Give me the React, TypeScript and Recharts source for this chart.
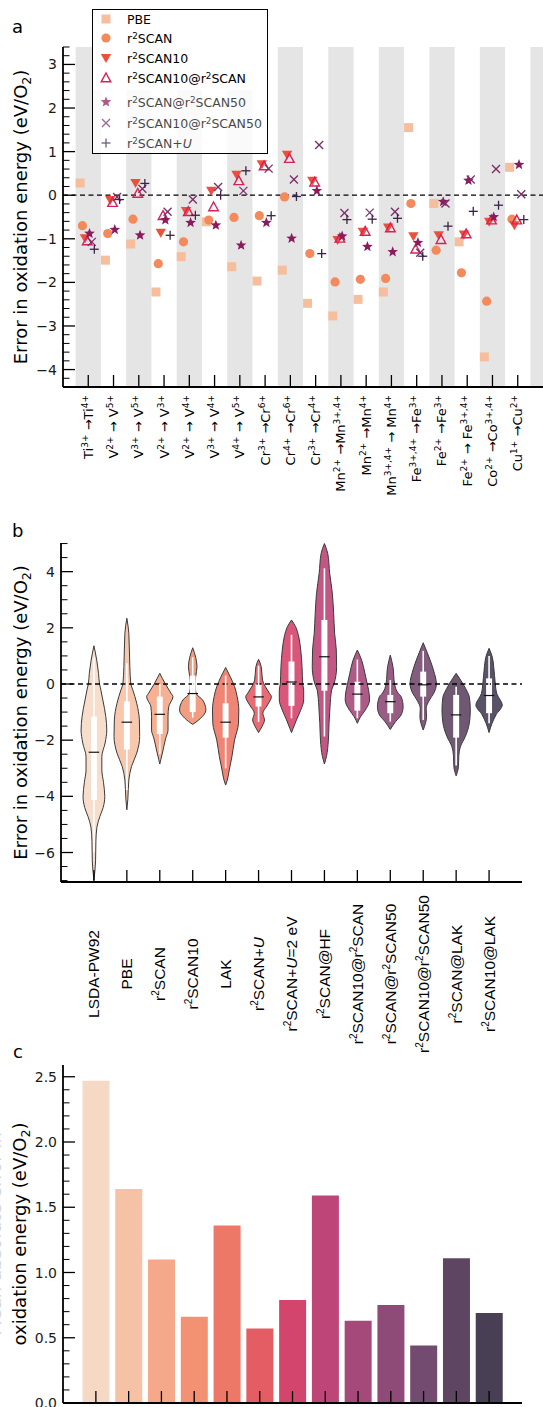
import React from 'react';
import {
  ComposedChart,
  Scatter,
  Area,
  Bar,
  Cell,
  XAxis,
  YAxis,
  ReferenceArea,
  ReferenceLine,
  Legend,
} from 'recharts';

const FONT = '"DejaVu Sans", Verdana, sans-serif';
const FONT_B = '"Liberation Sans", Arial, sans-serif';

// ---------------- panel a ----------------
const transitions = [
  'Ti^{3+} →Ti^{4+}',
  'V^{2+} → V^{5+}',
  'V^{3+} → V^{5+}',
  'V^{2+} → V^{3+}',
  'V^{2+} → V^{4+}',
  'V^{3+} → V^{4+}',
  'V^{4+} → V^{5+}',
  'Cr^{3+} →Cr^{6+}',
  'Cr^{4+} →Cr^{6+}',
  'Cr^{3+} →Cr^{4+}',
  'Mn^{2+} →Mn^{3+,4+}',
  'Mn^{2+} →Mn^{4+}',
  'Mn^{3+,4+} → Mn^{4+}',
  'Fe^{3+,4+} →Fe^{3+}',
  'Fe^{2+} →Fe^{3+}',
  'Fe^{2+} → Fe^{3+,4+}',
  'Co^{2+} →Co^{3+,4+}',
  'Cu^{1+} →Cu^{2+}',
];

const pbe = [0.28, -1.49, -1.12, -2.22, -1.41, -0.61, -1.64, -1.97, -1.72, -2.48, -2.77, -2.39, -2.22, 1.55, -0.19, -1.07, -3.71, 0.64];
const r2scan = [-0.7, -0.88, -0.55, -1.57, -1.07, -0.57, -0.51, -0.47, -0.04, -1.34, -1.99, -1.93, -1.91, -0.19, -1.26, -1.78, -2.43, -0.55];
const r2scan10 = [-0.99, -0.11, 0.28, -0.86, -0.36, 0.1, 0.47, 0.71, 0.93, 0.33, -1.03, -0.84, -0.74, -0.94, -0.92, -0.9, -0.61, -0.69];
const r2scan10AtR2scan = [-1.05, -0.17, 0.04, -0.47, -0.38, -0.27, 0.33, 0.67, 0.84, 0.3, -0.99, -0.83, -0.75, -1.24, -1.02, -0.89, -0.57, -0.57];
const r2scanAt50 = [-0.88, -0.79, -0.92, -0.57, -0.63, -0.69, -1.15, -0.63, -0.99, 0.1, -0.94, -1.18, -1.3, -1.09, -0.15, 0.34, -0.5, 0.7];
const r2scan10At50 = [-1.07, -0.04, 0.15, -0.38, -0.1, 0.19, 0.1, 0.61, 0.36, 1.15, -0.41, -0.4, -0.38, -1.32, -0.19, 0.36, 0.6, 0.02];
const r2scanU = [-1.24, -0.1, 0.27, -0.92, -0.46, 0.0, 0.56, -0.47, -0.03, -1.34, -0.56, -0.55, -0.53, -1.4, -0.71, -0.37, -0.23, -0.56];

const dodge = [-0.32, -0.23, -0.13, -0.04, 0.05, 0.14, 0.24];

const seriesA = [
  { name: 'PBE', vals: pbe, kind: 'square', color: '#f7be9d' },
  { name: 'r^{2}SCAN', vals: r2scan, kind: 'circle', color: '#f4895b' },
  { name: 'r^{2}SCAN10', vals: r2scan10, kind: 'tridown', color: '#ec503d' },
  { name: 'r^{2}SCAN10@r^{2}SCAN', vals: r2scan10AtR2scan, kind: 'triup', color: '#d6215a' },
  { name: 'r^{2}SCAN@r^{2}SCAN50', vals: r2scanAt50, kind: 'star', color: '#8a1c5d' },
  { name: 'r^{2}SCAN10@r^{2}SCAN50', vals: r2scan10At50, kind: 'x', color: '#7a2d68' },
  { name: 'r^{2}SCAN+$U$', vals: r2scanU, kind: 'plus', color: '#3a2346' },
];

// ---------------- panels b / c ----------------
const methods = [
  'LSDA-PW92',
  'PBE',
  'r^{2}SCAN',
  'r^{2}SCAN10',
  'LAK',
  'r^{2}SCAN+$U$',
  'r^{2}SCAN+$U$=2 eV',
  'r^{2}SCAN@HF',
  'r^{2}SCAN10@r^{2}SCAN',
  'r^{2}SCAN@r^{2}SCAN50',
  'r^{2}SCAN10@r^{2}SCAN50',
  'r^{2}SCAN@LAK',
  'r^{2}SCAN10@LAK',
];

const methodColors = [
  '#f6d9c5', '#f6c2a5', '#f5a98a', '#f29272', '#ee7867', '#e45c64', '#d4456d',
  '#bd4577', '#a5497a', '#8e4b78', '#744b70', '#5e4663', '#483f55',
];

// violin outlines: [error value, half width in category units]
const violinProfiles: [number, number][][] = [
  [[1.36, 0], [0.85, 0.085], [0.38, 0.14], [0, 0.17], [-0.21, 0.21], [-0.57, 0.27], [-1.16, 0.36], [-1.64, 0.39], [-2.1, 0.34], [-2.59, 0.24], [-3.06, 0.24], [-3.5, 0.29], [-4.0, 0.33], [-4.4, 0.28], [-4.72, 0.18], [-5.1, 0.09], [-5.6, 0.06], [-6.3, 0.05], [-6.98, 0]],
  [[2.34, 0], [1.8, 0.06], [0.62, 0.09], [0, 0.12], [-0.21, 0.18], [-0.69, 0.3], [-1.28, 0.38], [-1.87, 0.39], [-2.46, 0.3], [-2.94, 0.14], [-3.42, 0.06], [-4.1, 0.03], [-4.48, 0]],
  [[0.38, 0], [0, 0.17], [-0.33, 0.34], [-0.45, 0.4], [-0.81, 0.27], [-1.16, 0.25], [-1.64, 0.25], [-1.93, 0.18], [-2.35, 0.1], [-2.7, 0.03], [-2.85, 0]],
  [[1.29, 0], [0.95, 0.09], [0.62, 0.13], [0.26, 0.09], [0, 0.07], [-0.33, 0.1], [-0.57, 0.3], [-0.93, 0.4], [-1.22, 0.24], [-1.44, 0]],
  [[0.59, 0], [0.26, 0.14], [-0.09, 0.27], [-0.45, 0.35], [-0.93, 0.4], [-1.4, 0.39], [-2.0, 0.27], [-2.59, 0.19], [-3.06, 0.11], [-3.42, 0.05], [-3.6, 0]],
  [[0.88, 0], [0.62, 0.08], [0.14, 0.12], [-0.33, 0.33], [-0.45, 0.39], [-0.75, 0.27], [-1.04, 0.13], [-1.28, 0.18], [-1.52, 0.1], [-1.73, 0]],
  [[2.28, 0], [2.05, 0.12], [1.68, 0.22], [1.21, 0.28], [0.62, 0.32], [0, 0.34], [-0.21, 0.37], [-0.57, 0.37], [-0.93, 0.28], [-1.28, 0.15], [-1.58, 0.05], [-1.73, 0]],
  [[5.0, 0], [4.65, 0.1], [3.94, 0.16], [3.23, 0.24], [2.52, 0.28], [1.8, 0.31], [1.21, 0.36], [0.62, 0.37], [0, 0.29], [-0.21, 0.22], [-0.81, 0.17], [-1.4, 0.14], [-2.0, 0.12], [-2.59, 0.06], [-2.85, 0]],
  [[1.21, 0], [0.85, 0.13], [0.38, 0.23], [0, 0.3], [-0.21, 0.34], [-0.57, 0.37], [-0.93, 0.24], [-1.16, 0.1], [-1.4, 0]],
  [[1.03, 0], [0.62, 0.08], [0, 0.13], [-0.33, 0.24], [-0.45, 0.33], [-0.81, 0.39], [-1.1, 0.33], [-1.34, 0.16], [-1.62, 0]],
  [[1.47, 0], [1.21, 0.09], [0.85, 0.21], [0.5, 0.31], [0, 0.4], [-0.33, 0.32], [-0.57, 0.19], [-0.87, 0.09], [-1.16, 0.1], [-1.64, 0]],
  [[0.38, 0], [0, 0.21], [-0.33, 0.36], [-0.45, 0.4], [-0.93, 0.43], [-1.4, 0.4], [-1.87, 0.28], [-2.23, 0.13], [-2.59, 0.08], [-2.94, 0.07], [-3.27, 0]],
  [[1.27, 0], [0.95, 0.1], [0.62, 0.14], [0, 0.19], [-0.33, 0.23], [-0.45, 0.28], [-0.75, 0.4], [-1.1, 0.21], [-1.4, 0.09], [-1.73, 0]],
];

const boxHi = [-1.16, -0.62, -0.45, 0.3, -0.69, 0.0, 0.8, 2.28, 0.08, -0.39, 0.44, -0.39, 0.2];
const boxLo = [-4.13, -2.33, -1.78, -1.0, -1.91, -0.8, -0.78, -0.24, -0.95, -1.04, -0.45, -1.91, -1.04];
const whiskHi = [0.95, 0.74, 0.0, 0.95, 0.3, 0.65, 1.75, 4.12, 0.87, 0.14, 1.18, -0.1, 1.0];
const whiskLo = [-6.0, -3.77, -2.5, -1.2, -3.0, -1.35, -1.22, -1.87, -1.22, -1.34, -1.28, -2.9, -1.4];
const medians = [-2.43, -1.36, -1.08, -0.34, -1.36, -0.46, 0.07, 0.97, -0.36, -0.63, -0.03, -1.1, -0.41];

const maeValues = [2.47, 1.64, 1.1, 0.66, 1.36, 0.57, 0.79, 1.59, 0.63, 0.75, 0.44, 1.11, 0.69];

// ---------------- helpers ----------------
type Seg = { t: string; k: 'n' | 'sup' | 'sub' | 'it' };

function parse(s: string): Seg[] {
  const out: Seg[] = [];
  const re = /\^\{([^}]*)\}|_\{([^}]*)\}|\$([^$]*)\$|([^^_$]+)/g;
  let m: RegExpExecArray | null;
  while ((m = re.exec(s))) {
    if (m[1] != null) out.push({ t: m[1], k: 'sup' });
    else if (m[2] != null) out.push({ t: m[2], k: 'sub' });
    else if (m[3] != null) out.push({ t: m[3], k: 'it' });
    else out.push({ t: m[4], k: 'n' });
  }
  return out;
}

function Rich({ s, size, small, shift }: { s: string; size: number; small: number; shift: number }) {
  let cur = 0;
  return (
    <>
      {parse(s).map((seg, i) => {
        const target = seg.k === 'sup' ? -shift : seg.k === 'sub' ? shift * 0.6 : 0;
        const dy = target - cur;
        cur = target;
        return (
          <tspan
            key={i}
            dy={dy}
            fontSize={seg.k === 'sup' || seg.k === 'sub' ? small : size}
            fontStyle={seg.k === 'it' ? 'italic' : undefined}
          >
            {seg.t}
          </tspan>
        );
      })}
    </>
  );
}

function HtmlRich({ s }: { s: string }) {
  return (
    <>
      {parse(s).map((seg, i) =>
        seg.k === 'sup' ? (
          <span key={i} style={{ fontSize: '0.7em', position: 'relative', top: '-0.45em' }}>{seg.t}</span>
        ) : seg.k === 'it' ? (
          <i key={i}>{seg.t}</i>
        ) : (
          <span key={i}>{seg.t}</span>
        )
      )}
    </>
  );
}

function Marker({ kind, cx, cy, color }: { kind: string; cx: number; cy: number; color: string }) {
  switch (kind) {
    case 'square':
      return <rect x={cx - 4.5} y={cy - 4.5} width={9} height={9} fill={color} />;
    case 'circle':
      return <circle cx={cx} cy={cy} r={4.6} fill={color} />;
    case 'tridown':
      return <polygon points={`${cx - 5.2},${cy - 4} ${cx + 5.2},${cy - 4} ${cx},${cy + 5}`} fill={color} />;
    case 'triup':
      return (
        <polygon
          points={`${cx},${cy - 5} ${cx + 4.8},${cy + 3.8} ${cx - 4.8},${cy + 3.8}`}
          fill="none"
          stroke={color}
          strokeWidth={1.4}
        />
      );
    case 'star': {
      const pts: string[] = [];
      for (let k = 0; k < 10; k++) {
        const r = k % 2 === 0 ? 5.6 : 2.4;
        const a = -Math.PI / 2 + (k * Math.PI) / 5;
        pts.push(`${cx + r * Math.cos(a)},${cy + r * Math.sin(a)}`);
      }
      return <polygon points={pts.join(' ')} fill={color} />;
    }
    case 'x':
      return (
        <g stroke={color} strokeWidth={1.3}>
          <line x1={cx - 4} y1={cy - 4} x2={cx + 4} y2={cy + 4} />
          <line x1={cx - 4} y1={cy + 4} x2={cx + 4} y2={cy - 4} />
        </g>
      );
    default:
      return (
        <g stroke={color} strokeWidth={1.3}>
          <line x1={cx - 4.5} y1={cy} x2={cx + 4.5} y2={cy} />
          <line x1={cx} y1={cy - 4.5} x2={cx} y2={cy + 4.5} />
        </g>
      );
  }
}

function steps(a: number, b: number, step: number) {
  const out: number[] = [];
  for (let k = Math.round(a / step); k <= Math.round(b / step); k++) out.push(+(k * step).toFixed(6));
  return out;
}
const isMult = (v: number, step: number) => Math.abs(v / step - Math.round(v / step)) < 1e-6;
const minus = (s: string) => s.replace('-', '\u2212');

type Side = 'left' | 'right' | 'top' | 'bottom';
function makeTick(
  side: Side,
  major: (v: any) => boolean,
  label?: (v: any, x: number, y: number, index: number) => React.ReactNode
) {
  return (props: any) => {
    const { x, y, payload, index } = props;
    const v = payload.value;
    const isMaj = major(v);
    const L = isMaj ? 12 : 6.5;
    const x2 = side === 'left' ? x + L : side === 'right' ? x - L : x;
    const y2 = side === 'top' ? y + L : side === 'bottom' ? y - L : y;
    return (
      <g>
        <line x1={x} y1={y} x2={x2} y2={y2} stroke="#000" strokeWidth={isMaj ? 1.3 : 1} />
        {isMaj && label ? label(v, x, y, index) : null}
      </g>
    );
  };
}

const numLabel = (fmt: (v: number) => string) => (v: number, x: number, y: number) => (
  <text x={x - 6} y={y} dy="0.36em" textAnchor="end" fontSize={14} fontFamily={FONT} fill="#1a1a1a">
    {fmt(v)}
  </text>
);

const yLabel = (lines: { t: string; dx: number; fill: string }[]) => (props: any) => {
  const vb = props.viewBox || { x: 0, y: 0, width: 0, height: 0 };
  const cy = vb.y + vb.height / 2;
  return (
    <g>
      {lines.map((l, i) => {
        const x = vb.x + l.dx;
        return (
          <text
            key={i}
            x={x}
            y={cy}
            transform={`rotate(-90, ${x}, ${cy})`}
            textAnchor="middle"
            fontSize={18}
            fontFamily={FONT}
            fill={l.fill}
          >
            <Rich s={l.t} size={18} small={12.5} shift={6} />
          </text>
        );
      })}
    </g>
  );
};

const AXIS_LINE = { stroke: '#000', strokeWidth: 1.8 };

// ---------------- legend for panel a ----------------
const legendRows = [10, 29, 49, 69, 93, 114, 134];

function LegendA() {
  return (
    <div
      style={{
        position: 'relative',
        width: 176,
        height: 145,
        border: '1.2px solid #000',
        boxSizing: 'border-box',
        fontFamily: FONT,
        fontSize: 12.5,
        color: '#000',
      }}
    >
      <div style={{ position: 'absolute', left: 0, top: 0, right: 0, height: 80, background: '#fff' }} />
      <div style={{ position: 'absolute', left: 0, top: 80, right: 0, bottom: 0, background: 'rgba(255,255,255,0.8)' }} />
      {seriesA.map((s, k) => (
        <div
          key={s.name}
          style={{
            position: 'absolute',
            left: 0,
            top: legendRows[k] - 10,
            height: 18,
            display: 'flex',
            alignItems: 'center',
            whiteSpace: 'nowrap',
            opacity: k >= 4 ? 0.72 : 1,
          }}
        >
          <svg width={26} height={18} style={{ display: 'block' }}>
            <Marker kind={s.kind} cx={13} cy={9} color={s.color} />
          </svg>
          <span style={{ marginLeft: 8 }}>
            <HtmlRich s={s.name} />
          </span>
        </div>
      ))}
    </div>
  );
}

// ---------------- panels ----------------
function PanelA() {
  const yTicks = steps(-4.4, 3.4, 0.2);
  const cats = transitions.map((_, i) => i);
  const stripes = steps(0, 18, 2);
  const majorY = (v: number) => isMult(v, 1);
  return (
    <ComposedChart width={543} height={530} margin={{ top: 47, right: 0, bottom: 0, left: 0 }}>
      {stripes.map((i) => (
        <ReferenceArea
          key={`s${i}`}
          x1={i - 0.5}
          x2={i + 0.5}
          fill="#e5e5e5"
          fillOpacity={1}
          stroke="none"
          ifOverflow="hidden"
        />
      ))}
      <ReferenceLine y={0} stroke="#000" strokeWidth={1.3} strokeDasharray="5 3.5" />
      {seriesA.map((s, k) => (
        <Scatter
          key={s.name}
          name={s.name}
          data={s.vals.map((y, i) => ({ x: i + dodge[k], y }))}
          fill={s.color}
          isAnimationActive={false}
          shape={(p: any) => <Marker kind={s.kind} cx={p.cx} cy={p.cy} color={s.color} />}
        />
      ))}
      <XAxis
        type="number"
        dataKey="x"
        domain={[-1, 18]}
        allowDataOverflow
        ticks={cats}
        interval={0}
        height={143}
        tickSize={0}
        tickMargin={0}
        tickLine={false}
        axisLine={AXIS_LINE}
        tick={makeTick('bottom', () => true, (v, x, y) => (
          <text
            x={x + 4.5}
            y={y + 8}
            transform={`rotate(-90, ${x + 4.5}, ${y + 8})`}
            textAnchor="end"
            fontSize={13}
            fontFamily={FONT}
            fill="#000"
          >
            <Rich s={transitions[v]} size={13} small={9} shift={5} />
          </text>
        ))}
      />
      <XAxis
        xAxisId="t"
        orientation="top"
        type="number"
        dataKey="x"
        domain={[-1, 18]}
        allowDataOverflow
        ticks={[1.5, 4, 6.5, 9, 11.5, 14, 16.5]}
        interval={0}
        height={0}
        tickSize={0}
        tickMargin={0}
        tickLine={false}
        axisLine={AXIS_LINE}
        tick={makeTick('top', () => true)}
      />
      <YAxis
        type="number"
        dataKey="y"
        domain={[-4.4, 3.4]}
        allowDataOverflow
        ticks={yTicks}
        interval={0}
        width={63}
        tickSize={0}
        tickMargin={0}
        tickLine={false}
        axisLine={AXIS_LINE}
        tick={makeTick('left', majorY, numLabel((v) => minus(String(v))))}
        label={yLabel([{ t: 'Error in oxidation energy (eV/O_{2})', dx: 27, fill: '#000' }])}
      />
      <YAxis
        yAxisId="r"
        orientation="right"
        type="number"
        domain={[-4.4, 3.4]}
        allowDataOverflow
        ticks={yTicks}
        interval={0}
        width={0}
        tickSize={0}
        tickMargin={0}
        tickLine={false}
        axisLine={AXIS_LINE}
        tick={makeTick('right', majorY)}
      />
      <Legend
        layout="vertical"
        align="center"
        verticalAlign="middle"
        wrapperStyle={{ left: 92, top: 9, width: 176, height: 145 }}
        content={() => <LegendA />}
      />
    </ComposedChart>
  );
}

function PanelB() {
  const yTicks = steps(-7, 5, 0.5);
  const cats = methods.map((_, i) => i);
  const majorY = (v: number) => isMult(v, 2);
  const violinData = violinProfiles.map((prof, i) => prof.map(([v, w]) => ({ v, r: [i - w, i + w] })));
  return (
    <ComposedChart layout="vertical" width={543} height={580} margin={{ top: 43, right: 21, bottom: 0, left: 0 }}>
      {violinData.map((d, i) => (
        <Area
          key={`v${i}`}
          data={d}
          dataKey="r"
          type="monotone"
          fill={methodColors[i]}
          fillOpacity={0.9}
          stroke="#3a3a3a"
          strokeWidth={1}
          dot={false}
          activeDot={false}
          isAnimationActive={false}
        />
      ))}
      <ReferenceLine y={0} stroke="#000" strokeWidth={1.3} strokeDasharray="5 3.5" />
      {cats.map((i) => (
        <ReferenceLine
          key={`w${i}`}
          segment={[{ x: i, y: whiskLo[i] }, { x: i, y: whiskHi[i] }]}
          stroke="#fff"
          strokeWidth={1.6}
        />
      ))}
      {cats.map((i) => (
        <ReferenceArea
          key={`b${i}`}
          x1={i - 0.09}
          x2={i + 0.09}
          y1={boxLo[i]}
          y2={boxHi[i]}
          fill="#fff"
          fillOpacity={1}
          stroke="none"
        />
      ))}
      {cats.map((i) => (
        <ReferenceLine
          key={`m${i}`}
          segment={[{ x: i - 0.16, y: medians[i] }, { x: i + 0.16, y: medians[i] }]}
          stroke="#111"
          strokeWidth={1.2}
        />
      ))}
      <XAxis
        type="number"
        domain={[-1, 13]}
        allowDataOverflow
        ticks={cats}
        interval={0}
        height={198}
        tickSize={0}
        tickMargin={0}
        tickLine={false}
        axisLine={AXIS_LINE}
        tick={makeTick('bottom', () => true, (v, x, y) => (
          <text
            x={x + 5.5}
            y={y + 92}
            transform={`rotate(-90, ${x + 5.5}, ${y + 92})`}
            textAnchor="middle"
            fontSize={15.5}
            fontFamily={FONT_B}
            fill="#000"
          >
            <Rich s={methods[v]} size={15.5} small={10} shift={6} />
          </text>
        ))}
      />
      <XAxis
        xAxisId="t"
        orientation="top"
        type="number"
        domain={[-1, 13]}
        allowDataOverflow
        ticks={cats}
        interval={0}
        height={0}
        tickSize={0}
        tickMargin={0}
        tickLine={false}
        axisLine={AXIS_LINE}
        tick={makeTick('top', () => true)}
      />
      <YAxis
        type="number"
        dataKey="v"
        domain={[-7.05, 5.02]}
        reversed
        allowDataOverflow
        ticks={yTicks}
        interval={0}
        width={61}
        tickSize={0}
        tickMargin={0}
        tickLine={false}
        axisLine={AXIS_LINE}
        tick={makeTick('left', majorY, numLabel((v) => minus(String(v))))}
        label={yLabel([{ t: 'Error in oxidation energy (eV/O_{2})', dx: 27, fill: '#000' }])}
      />
      <YAxis
        yAxisId="r"
        orientation="right"
        type="number"
        domain={[-7.05, 5.02]}
        reversed
        allowDataOverflow
        ticks={yTicks}
        interval={0}
        width={0}
        tickSize={0}
        tickMargin={0}
        tickLine={false}
        axisLine={AXIS_LINE}
        tick={makeTick('right', majorY)}
      />
    </ComposedChart>
  );
}

function PanelC() {
  const data = methods.map((m, i) => ({ m, mae: maeValues[i] }));
  const yTicks = steps(0, 2.5, 0.1);
  const majorY = (v: number) => isMult(v, 0.5);
  return (
    <ComposedChart width={543} height={367} data={data} margin={{ top: 25, right: 21, bottom: 0, left: 0 }}>
      <Bar dataKey="mae" barSize={27} isAnimationActive={false}>
        {data.map((d, i) => (
          <Cell key={d.m} fill={methodColors[i]} />
        ))}
      </Bar>
      <XAxis
        dataKey="m"
        type="category"
        padding={{ left: 16.5, right: 16.5 }}
        interval={0}
        height={4}
        tickSize={0}
        tickMargin={0}
        tickLine={false}
        axisLine={AXIS_LINE}
        tick={makeTick('bottom', () => true)}
      />
      <XAxis
        xAxisId="t"
        dataKey="m"
        type="category"
        orientation="top"
        padding={{ left: 16.5, right: 16.5 }}
        interval={0}
        height={0}
        tickSize={0}
        tickMargin={0}
        tickLine={false}
        axisLine={AXIS_LINE}
        tick={makeTick('top', () => true)}
      />
      <YAxis
        type="number"
        domain={[0, 2.59]}
        allowDataOverflow
        ticks={yTicks}
        interval={0}
        width={63}
        tickSize={0}
        tickMargin={0}
        tickLine={false}
        axisLine={AXIS_LINE}
        tick={makeTick('left', majorY, numLabel((v) => v.toFixed(1)))}
        label={yLabel([
          { t: 'Mean absolute error in', dx: 1, fill: '#d4d4d4' },
          { t: 'oxidation energy (eV/O_{2})', dx: 26, fill: '#000' },
        ])}
      />
      <YAxis
        yAxisId="r"
        orientation="right"
        type="number"
        domain={[0, 2.59]}
        allowDataOverflow
        ticks={yTicks}
        interval={0}
        width={0}
        tickSize={0}
        tickMargin={0}
        tickLine={false}
        axisLine={AXIS_LINE}
        tick={makeTick('right', majorY)}
      />
    </ComposedChart>
  );
}

export default function App() {
  return (
    <div
      style={{
        position: 'absolute',
        left: 0,
        top: 0,
        width: 543,
        height: 1407,
        background: '#fff',
        overflow: 'hidden',
      }}
    >
      <div style={{ position: 'absolute', left: 0, top: 0 }}>
        <PanelA />
      </div>
      <div style={{ position: 'absolute', left: 0, top: 500 }}>
        <PanelB />
      </div>
      <div style={{ position: 'absolute', left: 0, top: 1040 }}>
        <PanelC />
      </div>
      <svg
        width={543}
        height={1407}
        style={{ position: 'absolute', left: 0, top: 0, pointerEvents: 'none' }}
      >
        <text x={12} y={33} fontSize={18} fontFamily={FONT} fill="#000">a</text>
        <text x={12} y={537} fontSize={18} fontFamily={FONT} fill="#000">b</text>
        <text x={13} y={1058} fontSize={18} fontFamily={FONT} fill="#000">c</text>
      </svg>
    </div>
  );
}
